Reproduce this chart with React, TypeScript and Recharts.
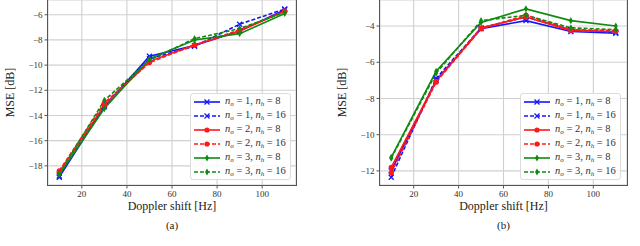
import { LineChart, Line, XAxis, YAxis, CartesianGrid } from 'recharts'

const dopplerHz = [10, 30, 50, 70, 90, 110]
const xTicks = [20, 40, 60, 80, 100]

// panel (a)
const a_o1_h8 = [-18.9, -13.3, -9.3, -8.45, -7.3, -5.6]
const a_o1_h16 = [-18.8, -13.2, -9.5, -8.5, -6.75, -5.55]
const a_o2_h8 = [-18.5, -13.2, -9.7, -8.4, -7.3, -5.7]
const a_o2_h16 = [-18.4, -13.0, -9.8, -8.4, -7.2, -5.75]
const a_o3_h8 = [-18.7, -13.45, -9.5, -8.0, -7.5, -5.9]
const a_o3_h16 = [-18.6, -12.8, -9.6, -7.9, -7.1, -5.8]
const aTicks = [-18, -16, -14, -12, -10, -8, -6]

// panel (b)
const b_o1_h8 = [-12.0, -7.0, -4.15, -3.7, -4.3, -4.4]
const b_o1_h16 = [-12.35, -6.9, -4.1, -3.5, -4.2, -4.35]
const b_o2_h8 = [-11.8, -7.05, -4.1, -3.5, -4.25, -4.3]
const b_o2_h16 = [-12.1, -7.1, -4.15, -3.4, -4.2, -4.25]
const b_o3_h8 = [-11.25, -6.5, -3.8, -3.05, -3.7, -4.0]
const b_o3_h16 = [-11.3, -6.6, -3.7, -3.4, -4.1, -4.2]
const bTicks = [-12, -10, -8, -6, -4]

const seriesInfo = [
  { key: 's1', o: 1, h: 8, color: '#1515ff', dash: false, marker: 'x' },
  { key: 's2', o: 1, h: 16, color: '#1515ff', dash: true, marker: 'x' },
  { key: 's3', o: 2, h: 8, color: '#ff1a1a', dash: false, marker: 'o' },
  { key: 's4', o: 2, h: 16, color: '#ff1a1a', dash: true, marker: 'o' },
  { key: 's5', o: 3, h: 8, color: '#108a10', dash: false, marker: 'd' },
  { key: 's6', o: 3, h: 16, color: '#108a10', dash: true, marker: 'd' },
]

function buildRows(cols: number[][]) {
  return dopplerHz.map((x, i) => {
    const row: Record<string, number> = { x }
    cols.forEach((c, j) => (row['s' + (j + 1)] = c[i]))
    return row
  })
}

const dataA = buildRows([a_o1_h8, a_o1_h16, a_o2_h8, a_o2_h16, a_o3_h8, a_o3_h16])
const dataB = buildRows([b_o1_h8, b_o1_h16, b_o2_h8, b_o2_h16, b_o3_h8, b_o3_h16])

const FONT = '"Liberation Serif", "DejaVu Serif", serif'
const minus = (v: number) => String(v).replace('-', '\u2212')

function Marker({ cx, cy, color, kind }: { cx: number; cy: number; color: string; kind: string }) {
  if (kind === 'x')
    return (
      <g stroke={color} strokeWidth={1.3}>
        <line x1={cx - 2.5} y1={cy - 2.5} x2={cx + 2.5} y2={cy + 2.5} />
        <line x1={cx - 2.5} y1={cy + 2.5} x2={cx + 2.5} y2={cy - 2.5} />
      </g>
    )
  if (kind === 'o') return <circle cx={cx} cy={cy} r={2.6} fill={color} />
  return (
    <polygon
      points={`${cx},${cy - 3.6} ${cx + 2},${cy} ${cx},${cy + 3.6} ${cx - 2},${cy}`}
      fill={color}
    />
  )
}

function LegendBox({ left, top }: { left: number; top: number }) {
  return (
    <div
      style={{
        position: 'absolute',
        left,
        top,
        width: 101,
        height: 87,
        background: 'rgba(255,255,255,0.85)',
        border: '1px solid #dcdcdc',
        borderRadius: 3,
        boxSizing: 'border-box',
        paddingTop: 1,
        fontFamily: FONT,
        fontSize: 10.5,
        color: '#333',
      }}
    >
      {seriesInfo.map((s) => (
        <div key={s.key} style={{ display: 'flex', alignItems: 'center', height: 14 }}>
          <svg width={30} height={10} style={{ marginLeft: 2 }}>
            <line
              x1={1}
              y1={5}
              x2={27}
              y2={5}
              stroke={s.color}
              strokeWidth={1.6}
              strokeDasharray={s.dash ? '4 2' : undefined}
            />
            <Marker cx={14} cy={5} color={s.color} kind={s.marker} />
          </svg>
          <span style={{ whiteSpace: 'nowrap', marginLeft: 2, lineHeight: '12px' }}>
            <i>n</i>
            <sub style={{ fontSize: 7, verticalAlign: -2 }}>
              <i>o</i>
            </sub>{' '}
            = {s.o}, <i>n</i>
            <sub style={{ fontSize: 7, verticalAlign: -2 }}>
              <i>h</i>
            </sub>{' '}
            = {s.h}
          </span>
        </div>
      ))}
    </div>
  )
}

function Panel({
  data,
  yDomain,
  yTicks,
  left,
  right,
  caption,
  legendLeft,
}: {
  data: Record<string, number>[]
  yDomain: [number, number]
  yTicks: number[]
  left: number
  right: number
  caption: string
  legendLeft: number
}) {
  const plotW = 320 - left - right
  return (
    <div style={{ position: 'relative', width: 320, height: 246 }}>
      <LineChart
        width={320}
        height={246}
        data={data}
        margin={{ top: 0, right, left: 0, bottom: 0 }}
      >
        <CartesianGrid stroke="#d0d0d0" strokeWidth={1.1} />
        <XAxis
          dataKey="x"
          type="number"
          domain={[5, 115]}
          ticks={xTicks}
          allowDataOverflow
          height={61}
          tickSize={3.5}
          tickLine={{ stroke: '#555' }}
          axisLine={false}
          tick={{ fontFamily: FONT, fontSize: 9, fill: '#333' }}
          label={{
            value: 'Doppler shift [Hz]',
            position: 'insideTop',
            offset: 16,
            style: { fontFamily: FONT, fontSize: 12, fill: '#222' },
          }}
        />
        <YAxis
          type="number"
          domain={yDomain}
          ticks={yTicks}
          allowDataOverflow
          width={left}
          tickSize={3.5}
          tickLine={{ stroke: '#555' }}
          axisLine={false}
          tickFormatter={minus}
          tick={{ fontFamily: FONT, fontSize: 9, fill: '#333' }}
          label={{
            value: 'MSE [dB]',
            angle: -90,
            position: 'insideLeft',
            offset: left - 38,
            style: { fontFamily: FONT, fontSize: 12, fill: '#222', textAnchor: 'middle' },
          }}
        />
        {seriesInfo.map((s) => (
          <Line
            key={s.key}
            dataKey={s.key}
            stroke={s.color}
            strokeWidth={1.6}
            strokeDasharray={s.dash ? '4 2' : undefined}
            isAnimationActive={false}
            dot={(p: any) => (
              <Marker key={s.key + p.index} cx={p.cx} cy={p.cy} color={s.color} kind={s.marker} />
            )}
            activeDot={false}
          />
        ))}
      </LineChart>
      <div
        style={{
          position: 'absolute',
          left: left - 1,
          top: -1,
          width: plotW + 2,
          height: 187,
          border: '1.5px solid #555',
          boxSizing: 'border-box',
          pointerEvents: 'none',
        }}
      />
      <LegendBox left={legendLeft} top={93} />
      <div
        style={{
          position: 'absolute',
          left: left,
          width: plotW,
          top: 219,
          textAlign: 'center',
          fontFamily: FONT,
          fontSize: 11,
          color: '#222',
        }}
      >
        {caption}
      </div>
    </div>
  )
}

export default function App() {
  return (
    <div
      style={{
        position: 'absolute',
        left: 0,
        top: 0,
        width: 640,
        height: 246,
        display: 'flex',
        background: '#fff',
      }}
    >
      <Panel
        data={dataA}
        yDomain={[-19.52, -4.83]}
        yTicks={aTicks}
        left={48}
        right={24}
        caption="(a)"
        legendLeft={190}
      />
      <Panel
        data={dataB}
        yDomain={[-12.78, -2.56]}
        yTicks={bTicks}
        left={60}
        right={13}
        caption="(b)"
        legendLeft={200}
      />
    </div>
  )
}
